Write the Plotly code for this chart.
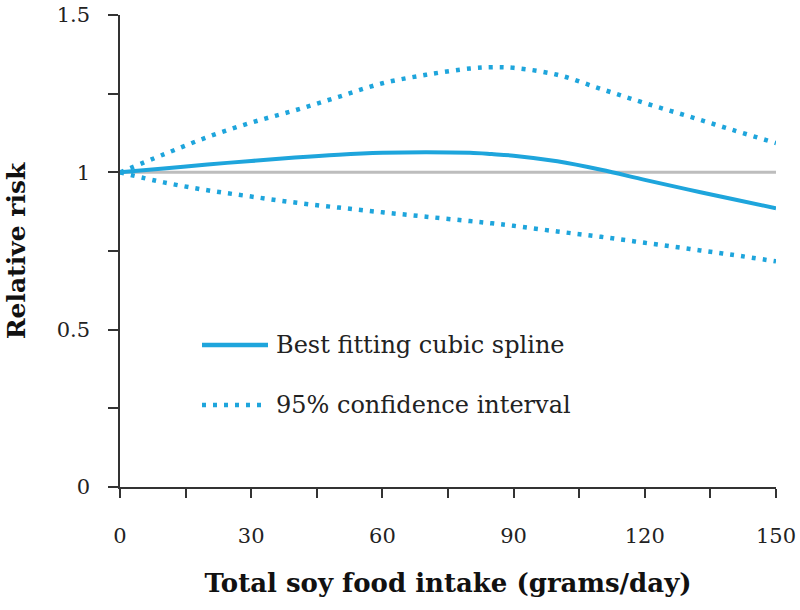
import plotly.graph_objects as go

intake = [0, 10, 20, 30, 40, 50, 60, 70, 80, 85, 90, 100, 110, 120, 130, 140, 150]
spline_rr = [1.0, 1.012, 1.025, 1.036, 1.047, 1.056, 1.062, 1.064, 1.062, 1.058, 1.053, 1.035, 1.008, 0.976, 0.945, 0.915, 0.886]
upper_ci = [1.0, 1.057, 1.112, 1.158, 1.197, 1.240, 1.283, 1.310, 1.330, 1.334, 1.332, 1.310, 1.265, 1.220, 1.178, 1.135, 1.093]
lower_ci = [1.0, 0.968, 0.943, 0.923, 0.904, 0.888, 0.873, 0.859, 0.845, 0.838, 0.830, 0.812, 0.795, 0.776, 0.757, 0.738, 0.717]
ref_x = [0, 150]
ref_y = [1, 1]

x_tickvals = [0, 15, 30, 45, 60, 75, 90, 105, 120, 135, 150]
x_ticktext = ["0", "", "30", "", "60", "", "90", "", "120", "", "150"]
y_tickvals = [0, 0.25, 0.5, 0.75, 1, 1.25, 1.5]
y_ticktext = ["0", "", "0.5", "", "1", "", "1.5"]

legend_labels = ["Best fitting cubic spline", "95% confidence interval"]

BLUE = "#1ea5dc"
FONT = "DejaVu Serif"

# plot area target in page px (body margin removed): x 120..776, y 15..487
PX0, PX1, PY0, PY1 = 120, 776, 15, 487

fig = go.Figure()
fig.add_trace(go.Scatter(x=ref_x, y=ref_y, mode="lines",
                         line=dict(color="#bdbdbd", width=3), showlegend=False))
fig.add_trace(go.Scatter(x=intake, y=upper_ci, mode="lines", line_shape="spline",
                         line=dict(color=BLUE, width=4.5, dash="4px,7px"), showlegend=False))
fig.add_trace(go.Scatter(x=intake, y=lower_ci, mode="lines", line_shape="spline",
                         line=dict(color=BLUE, width=4.5, dash="4px,7px"), showlegend=False))
fig.add_trace(go.Scatter(x=intake, y=spline_rr, mode="lines", line_shape="spline",
                         line=dict(color=BLUE, width=4), showlegend=False))

# manual legend (paper coordinates)
def px_to_paper_x(px):
    return (px - PX0) / (PX1 - PX0)

def px_to_paper_y(py):
    return (PY1 - py) / (PY1 - PY0)

fig.add_shape(type="line", xref="paper", yref="paper",
              x0=px_to_paper_x(202), x1=px_to_paper_x(268),
              y0=px_to_paper_y(345), y1=px_to_paper_y(345),
              line=dict(color=BLUE, width=4.5))
fig.add_shape(type="line", xref="paper", yref="paper",
              x0=px_to_paper_x(202), x1=px_to_paper_x(266),
              y0=px_to_paper_y(405), y1=px_to_paper_y(405),
              line=dict(color=BLUE, width=4.5, dash="4px,7px"))
fig.add_annotation(xref="paper", yref="paper", x=px_to_paper_x(274), y=px_to_paper_y(345),
                   xanchor="left", yanchor="middle", showarrow=False,
                   text=legend_labels[0], font=dict(family=FONT, size=24, color="#222"))
fig.add_annotation(xref="paper", yref="paper", x=px_to_paper_x(274), y=px_to_paper_y(405),
                   xanchor="left", yanchor="middle", showarrow=False,
                   text=legend_labels[1], font=dict(family=FONT, size=24, color="#222"))

fig.update_layout(
    width=800, height=610,
    margin=dict(l=120, r=24, t=15, b=123, autoexpand=False),
    paper_bgcolor="white", plot_bgcolor="white",
    font=dict(family=FONT, size=21, color="#222"),
    showlegend=False,
)
fig.update_xaxes(range=[0, 150], tickvals=x_tickvals, ticktext=x_ticktext,
                 showgrid=False, zeroline=False, showline=True, linecolor="#333", linewidth=1.5,
                 ticks="outside", ticklen=9, tickcolor="#333", tickwidth=1.5,
                 ticklabelstandoff=20, automargin=False, ticklabeloverflow="allow",
                 tickfont=dict(family=FONT, size=21, color="#222"),
                 title=dict(text="<b>Total soy food intake (grams/day)</b>", standoff=27,
                            font=dict(family=FONT, size=26, color="#111")))
fig.update_yaxes(range=[0, 1.5], tickvals=y_tickvals, ticktext=y_ticktext,
                 showgrid=False, zeroline=False, showline=True, linecolor="#333", linewidth=1.5,
                 ticks="outside", ticklen=10, tickcolor="#333", tickwidth=1.5,
                 ticklabelstandoff=14, automargin=False, ticklabeloverflow="allow",
                 tickfont=dict(family=FONT, size=21, color="#222"),
                 title=dict(text="<b>Relative risk</b>", standoff=24,
                            font=dict(family=FONT, size=25, color="#111")))

fig.write_html("out.html",
               config={"displayModeBar": False},
               post_script="document.body.style.margin='0';document.body.style.overflow='hidden';")
